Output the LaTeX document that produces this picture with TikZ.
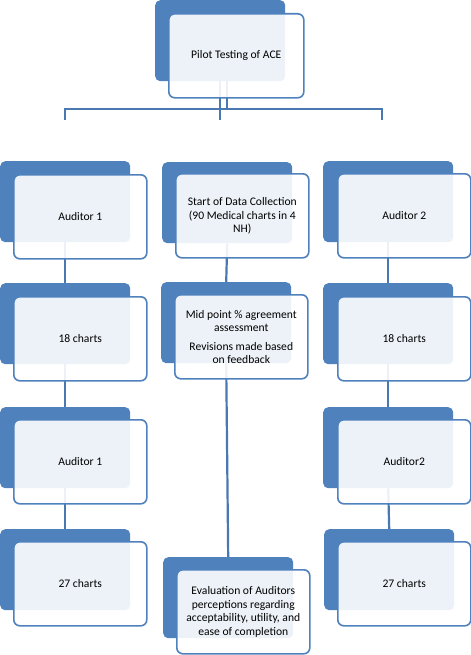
\documentclass[tikz,border=0pt]{standalone}
\usepackage{fontspec}
\setmainfont{Carlito}
\usetikzlibrary{backgrounds}
\definecolor{boxblue}{HTML}{4F81BD}
\definecolor{lineblue}{HTML}{4A78B0}
\begin{document}
\begin{tikzpicture}[x=1bp,y=-1bp,
  backbox/.style={draw=none, fill=boxblue, rounded corners=5bp, minimum width=130bp, minimum height=81bp, anchor=north west, inner sep=0pt},
  frontbox/.style={draw=boxblue, line width=1.6bp, fill=white, fill opacity=0.9, text opacity=1, rounded corners=6bp, minimum width=133bp, minimum height=84bp, anchor=north west, inner sep=0pt, align=center, font=\fontsize{11.6bp}{13.5bp}\selectfont},
  conn/.style={draw=lineblue, line width=2.2bp}]
\useasboundingbox (0,0) rectangle (471,655);

% top
\node[backbox] (Tb) at (155,0) {};
\node[frontbox, minimum width=135bp] (Tf) at (168,13) {Pilot Testing of ACE};

% left column
\node[backbox] (L1b) at (0,161) {};
\node[frontbox] (L1f) at (13,174) {Auditor 1};
\node[backbox] (L2b) at (0,283) {};
\node[frontbox] (L2f) at (13,296) {18 charts};
\node[backbox] (L3b) at (0,407) {};
\node[frontbox] (L3f) at (13,419) {Auditor 1};
\node[backbox] (L4b) at (0,529) {};
\node[frontbox] (L4f) at (13,541) {27 charts};

% middle column
\node[backbox] (M1b) at (162,162) {};
\node[frontbox] (M1f) at (175,173) {Start of Data Collection\\(90 Medical charts in 4\\NH)};
\node[backbox] (M2b) at (161,282) {};
\node[frontbox] (M2f) at (174,294) {Mid point \% agreement\\assessment\\[5bp]Revisions made based\\on feedback};
\node[backbox] (M3b) at (163,557) {};
\node[frontbox] (M3f) at (176,569) {Evaluation of Auditors\\perceptions regarding\\acceptability, utility, and\\ease of completion};

% right column
\node[backbox] (R1b) at (323,161) {};
\node[frontbox] (R1f) at (337,173) {Auditor 2};
\node[backbox] (R2b) at (323,283) {};
\node[frontbox] (R2f) at (337,296) {18 charts};
\node[backbox] (R3b) at (323,407) {};
\node[frontbox] (R3f) at (337,419) {Auditor2};
\node[backbox] (R4b) at (324,529) {};
\node[frontbox] (R4f) at (337,541) {27 charts};

\begin{scope}[on background layer]
\coordinate (bar) at (0,109);
\coordinate (drop) at (0,120);
\draw[conn] (Tb.south) -- (Tb.south |- drop);
\draw[conn] ([xshift=7bp]Tb.south) -- ([xshift=7bp]Tb.south |- bar);
\draw[conn] (L1b.north |- drop) -- (L1b.north |- bar) -- ([xshift=-6bp]R1b.north |- bar) -- ([xshift=-6bp]R1b.north |- drop);
\draw[conn] (L1b.south) -- (L2b.north);
\draw[conn] (L2b.south) -- (L3b.north);
\draw[conn] (L3b.south) -- (L4b.north);
\draw[conn] (M1b.south) -- (M2b.north);
\draw[conn] (M2b.south) -- (M3b.north);
\draw[conn] (R1b.south) -- (R2b.north);
\draw[conn] (R2b.south) -- (R3b.north);
\draw[conn] (R3b.south) -- (R4b.north);
\end{scope}
\end{tikzpicture}
\end{document}
